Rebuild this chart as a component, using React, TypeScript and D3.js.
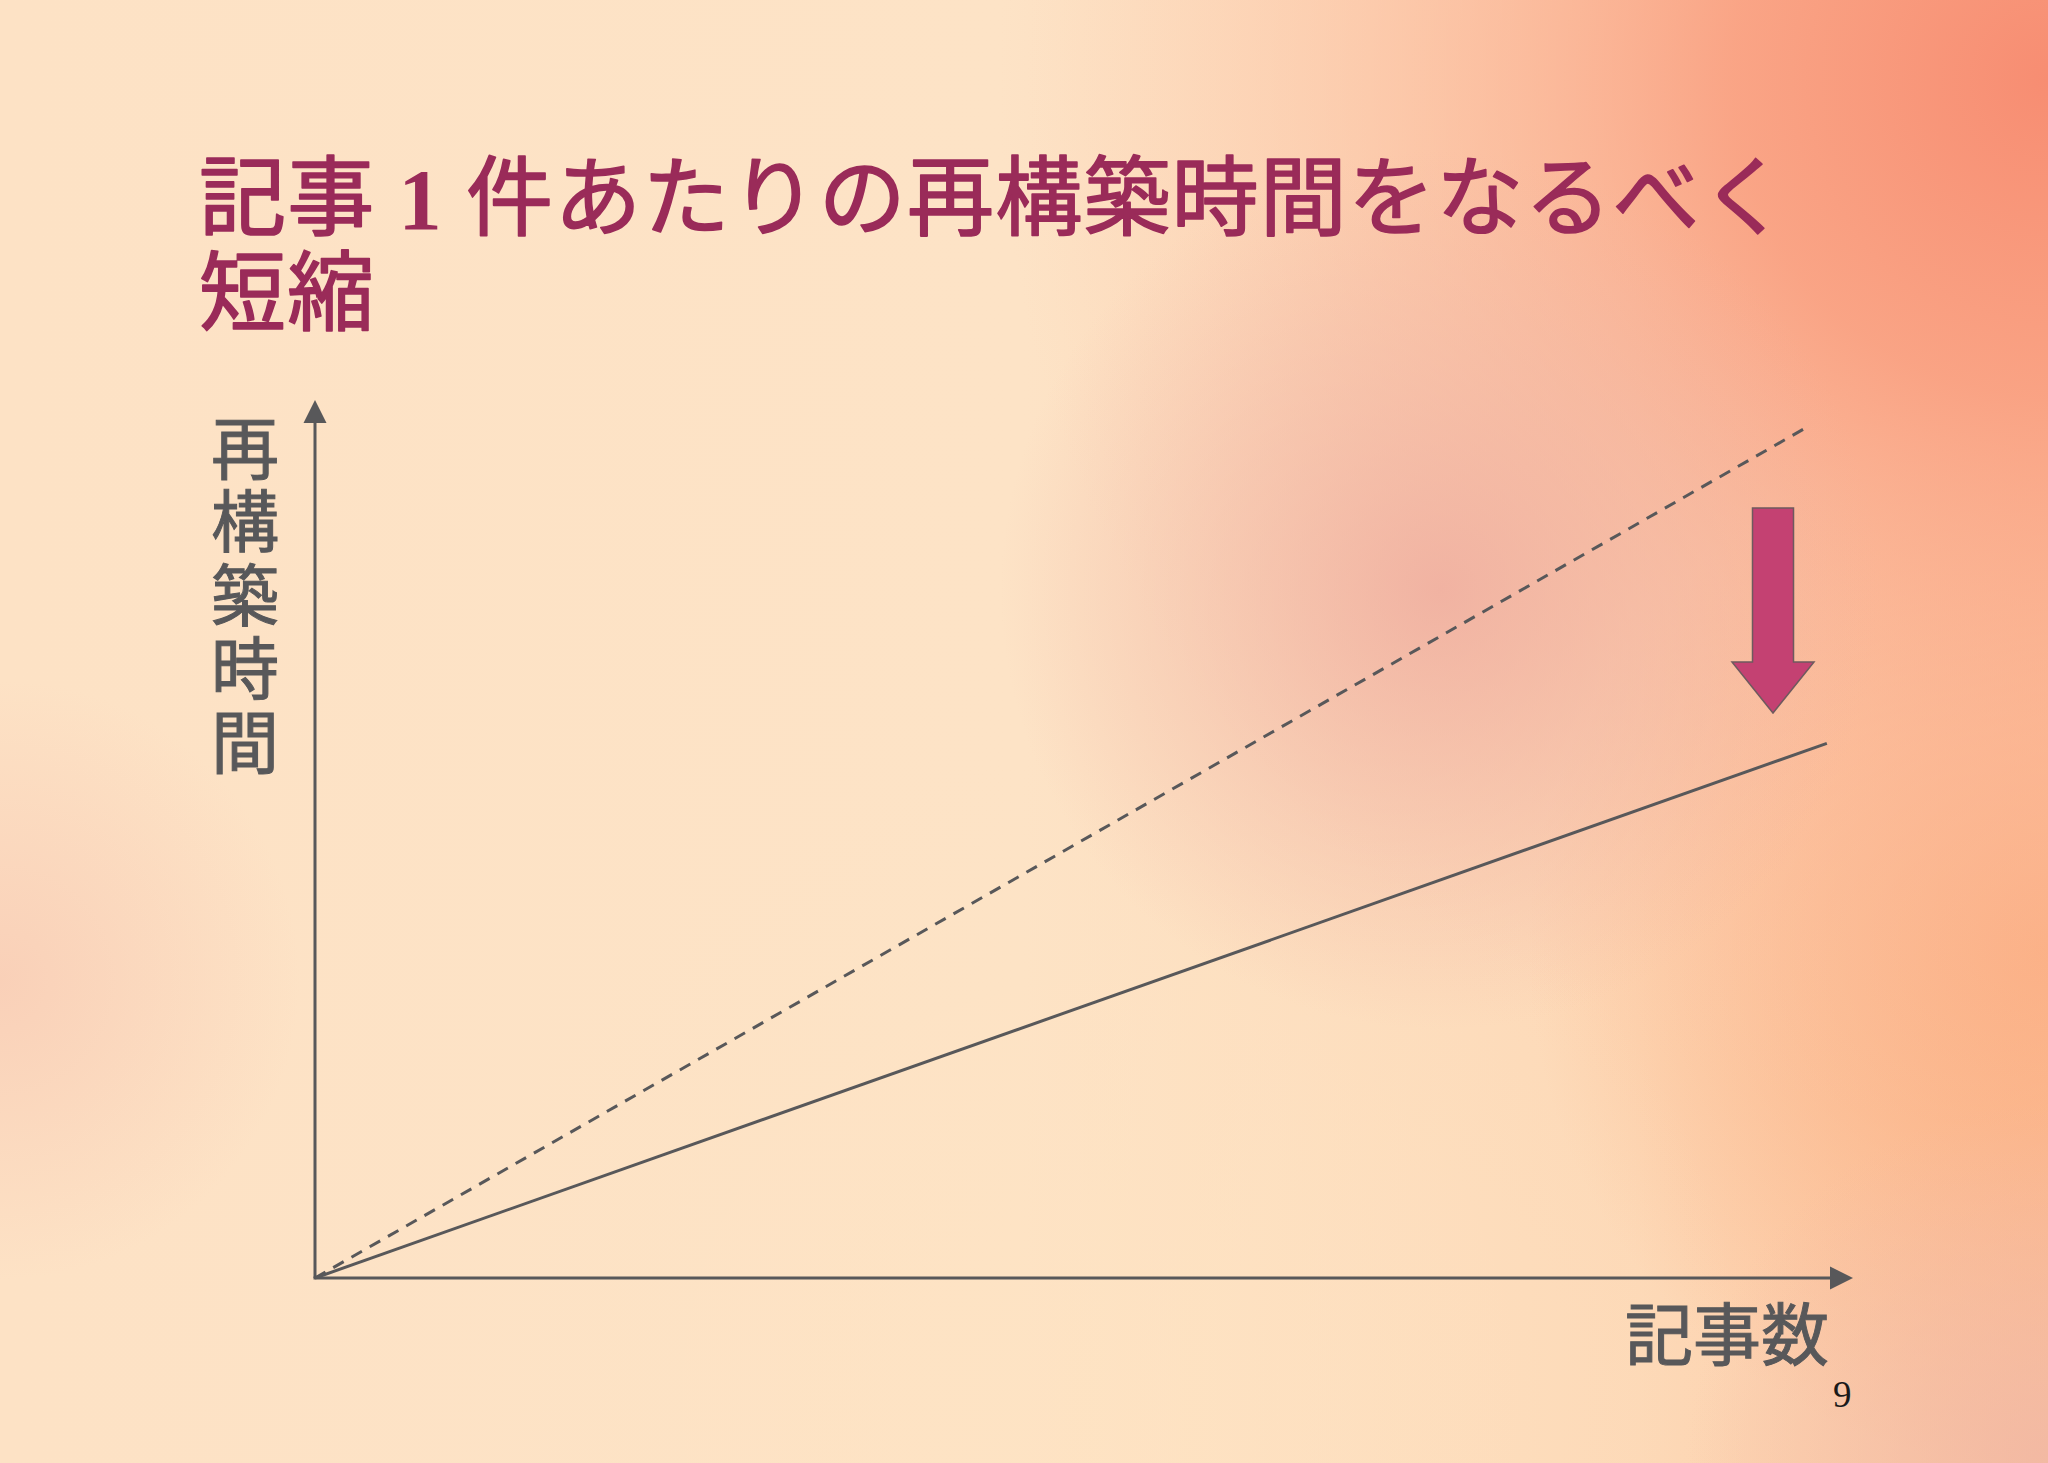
import React from "react";
import * as d3 from "d3";

// ---- data ----
const titleLine1 = ["記事", " 1 ", "件あたりの再構築時間をなるべく"];
const titleLine2 = "短縮";
const yAxisLabel = "再構築時間";
const xAxisLabel = "記事数";
const pageNumber = "9";

// article count (x) and rebuild time (y), in arbitrary units 0..100
const beforeX = [0, 96.8];
const beforeY = [0, 96.7];
const afterX = [0, 98.3];
const afterY = [0, 60.9];

const W = 2048;
const H = 1463;

export default function App() {
  const x = d3.scaleLinear().domain([0, 100]).range([315, 1853]);
  const y = d3.scaleLinear().domain([0, 100]).range([1278, 400]);

  const line = d3
    .line<[number, number]>()
    .x((d) => x(d[0]))
    .y((d) => y(d[1]));

  const beforePts = beforeX.map((v, i) => [v, beforeY[i]] as [number, number]);
  const afterPts = afterX.map((v, i) => [v, afterY[i]] as [number, number]);

  const axisColor = "#58585a";
  const titleColor = "#9a2b59";
  const x0 = x(0);
  const y0 = y(0);
  const xEnd = x(100);
  const yTop = y(100);

  // reduction arrow
  const ax = 1773;
  const aTop = 508;
  const aHead = 662;
  const aTip = 713;
  const arrowPath =
    [
      [ax - 20.5, aTop],
      [ax + 20.5, aTop],
      [ax + 20.5, aHead],
      [ax + 41, aHead],
      [ax, aTip],
      [ax - 41, aHead],
      [ax - 20.5, aHead],
    ]
      .map((p, i) => (i === 0 ? "M" : "L") + p[0] + "," + p[1])
      .join("") + "Z";

  return (
    <svg
      width={W}
      height={H}
      viewBox={`0 0 ${W} ${H}`}
      style={{ position: "fixed", left: 0, top: 0, display: "block" }}
    >
      <defs>
        <linearGradient id="base" x1="0" y1="0" x2="1" y2="0">
          <stop offset="0" stopColor="#fde2c5" />
          <stop offset="0.5" stopColor="#fde3c6" />
          <stop offset="0.8" stopColor="#fdd8b6" />
          <stop offset="1" stopColor="#fcc6a2" />
        </linearGradient>
        <radialGradient id="tr" cx="2048" cy="80" r="1050" gradientUnits="userSpaceOnUse">
          <stop offset="0" stopColor="#f78d72" stopOpacity="1" />
          <stop offset="0.3" stopColor="#f99c7e" stopOpacity="0.85" />
          <stop offset="0.65" stopColor="#fbb598" stopOpacity="0.45" />
          <stop offset="1" stopColor="#fcc8ad" stopOpacity="0" />
        </radialGradient>
        <radialGradient id="pink" cx="1440" cy="590" r="440" gradientUnits="userSpaceOnUse">
          <stop offset="0" stopColor="#eeab9e" stopOpacity="0.8" />
          <stop offset="0.5" stopColor="#f0b2a2" stopOpacity="0.45" />
          <stop offset="1" stopColor="#f0b2a2" stopOpacity="0" />
        </radialGradient>
        <radialGradient id="rmid" cx="2048" cy="950" r="520" gradientUnits="userSpaceOnUse">
          <stop offset="0" stopColor="#fba97a" stopOpacity="0.85" />
          <stop offset="1" stopColor="#fba97a" stopOpacity="0" />
        </radialGradient>
        <radialGradient id="br" cx="2048" cy="1463" r="360" gradientUnits="userSpaceOnUse">
          <stop offset="0" stopColor="#f1b7a3" stopOpacity="0.85" />
          <stop offset="1" stopColor="#f1b7a3" stopOpacity="0" />
        </radialGradient>
        <radialGradient id="lmid" cx="0" cy="980" r="300" gradientUnits="userSpaceOnUse">
          <stop offset="0" stopColor="#f7c4af" stopOpacity="0.6" />
          <stop offset="1" stopColor="#f7c4af" stopOpacity="0" />
        </radialGradient>
        <radialGradient id="bottom" cx="1100" cy="1400" r="650" gradientUnits="userSpaceOnUse">
          <stop offset="0" stopColor="#fee3c2" stopOpacity="0.7" />
          <stop offset="1" stopColor="#fee3c2" stopOpacity="0" />
        </radialGradient>
      </defs>

      <rect x={0} y={0} width={W} height={H} fill="url(#base)" />
      <rect x={0} y={0} width={W} height={H} fill="url(#rmid)" />
      <rect x={0} y={0} width={W} height={H} fill="url(#bottom)" />
      <rect x={0} y={0} width={W} height={H} fill="url(#tr)" />
      <rect x={0} y={0} width={W} height={H} fill="url(#pink)" />
      <rect x={0} y={0} width={W} height={H} fill="url(#br)" />
      <rect x={0} y={0} width={W} height={H} fill="url(#lmid)" />

      {/* title */}
      <text
        x={199}
        y={229}
        fill={titleColor}
        stroke={titleColor}
        strokeWidth={1.6}
        strokeLinejoin="round"
        fontFamily="'Noto Sans CJK JP', sans-serif"
        fontWeight={400}
        fontSize={87}
        letterSpacing={1.2}
      >
        <tspan>{titleLine1[0]}</tspan>
        <tspan
          fontFamily="'Liberation Serif', serif"
          fontWeight={700}
          strokeWidth={0}
          style={{ whiteSpace: "pre" }}
        >
          {titleLine1[1]}
        </tspan>
        <tspan>{titleLine1[2]}</tspan>
        <tspan x={199} dy={95}>
          {titleLine2}
        </tspan>
      </text>

      {/* axes */}
      <line x1={x0} y1={y0} x2={x0} y2={yTop + 20} stroke={axisColor} strokeWidth={3} />
      <path
        d={`M${x0},${yTop} L${x0 + 11.5},${yTop + 23} L${x0 - 11.5},${yTop + 23} Z`}
        fill={axisColor}
      />
      <line x1={x0 - 1.5} y1={y0} x2={xEnd - 20} y2={y0} stroke={axisColor} strokeWidth={3} />
      <path
        d={`M${xEnd},${y0} L${xEnd - 23},${y0 - 11.5} L${xEnd - 23},${y0 + 11.5} Z`}
        fill={axisColor}
      />

      {/* series */}
      <path
        d={line(beforePts) || ""}
        fill="none"
        stroke={axisColor}
        strokeWidth={3}
        strokeDasharray="12 9"
      />
      <path d={line(afterPts) || ""} fill="none" stroke={axisColor} strokeWidth={3} />

      {/* arrow */}
      <path d={arrowPath} fill="#c44172" stroke="#6e5a5e" strokeWidth={1.5} />

      {/* axis labels */}
      <g
        fill={axisColor}
        stroke={axisColor}
        strokeWidth={1}
        fontFamily="'Noto Sans CJK JP', sans-serif"
        fontWeight={400}
        fontSize={68}
      >
        <text x={245} y={414} style={{ writingMode: "vertical-rl" }} letterSpacing={5.5}>
          {yAxisLabel}
        </text>
        <text x={1829} y={1360} textAnchor="end">
          {xAxisLabel}
        </text>
      </g>

      <text x={1833} y={1407} fontFamily="'Liberation Serif', serif" fontSize={37} fill="#1a1a1a">
        {pageNumber}
      </text>
    </svg>
  );
}
